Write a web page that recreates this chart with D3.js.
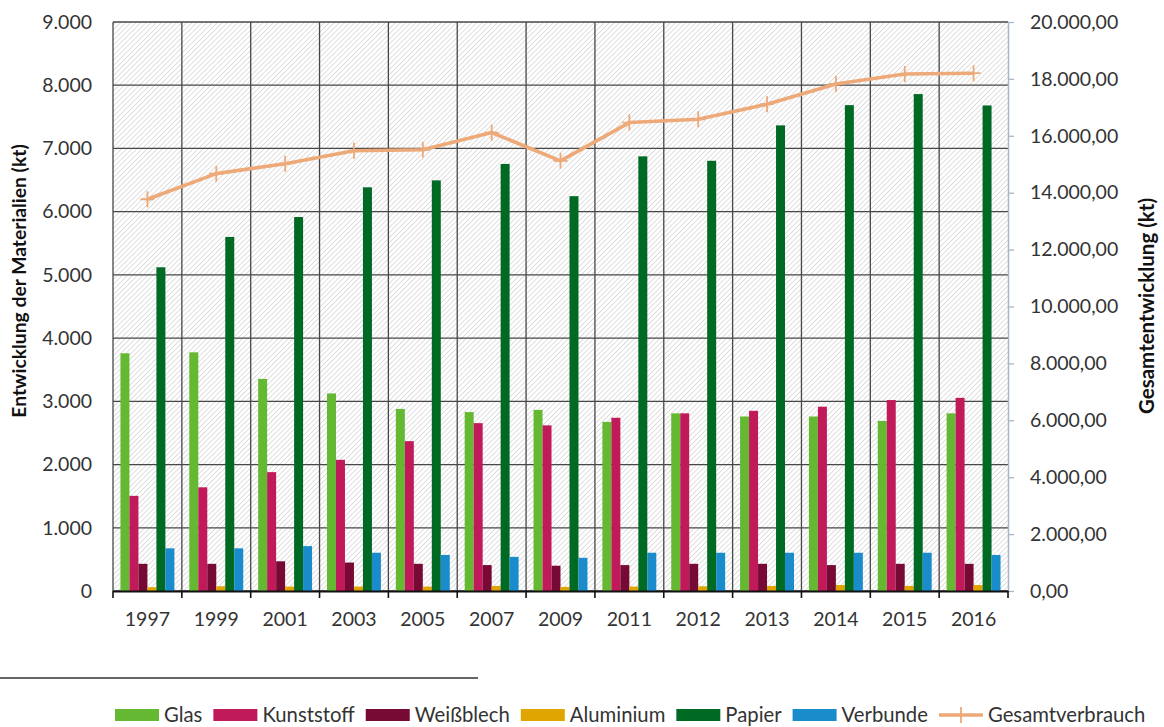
<!DOCTYPE html>
<html>
<head>
<meta charset="utf-8">
<script src="https://cdn.jsdelivr.net/npm/d3@7"></script>
<style>
  body { margin: 0; background: #fff; }
  svg { display: block; font-family: Lato, "Noto Sans", sans-serif; }
</style>
</head>
<body>
<div id="chart"></div>
<script>
const years = ['1997','1999','2001','2003','2005','2007','2009','2011','2012','2013','2014','2015','2016']
const seriesNames = ['Glas','Kunststoff','Weißblech','Aluminium','Papier','Verbunde']
const seriesColors = ['#65b832','#c01a5a','#760a35','#e0a500','#006a25','#1a8ccc']

const glas = [3760,3775,3355,3125,2880,2830,2865,2675,2810,2760,2760,2690,2810]
const kunststoff = [1505,1640,1880,2075,2370,2655,2620,2740,2810,2850,2915,3020,3055]
const weissblech = [430,430,470,450,430,410,400,410,430,430,410,430,430]
const aluminium = [60,75,70,70,70,80,65,70,75,80,95,80,95]
const papier = [5120,5600,5915,6385,6495,6755,6245,6875,6805,7365,7685,7860,7680]
const verbunde = [675,675,710,605,570,540,525,605,605,605,605,605,570]
const gesamt = [13770,14670,15020,15475,15510,16115,15120,16465,16580,17110,17820,18170,18200]

const leftTicks = [0,1000,2000,3000,4000,5000,6000,7000,8000,9000]
const rightTicks = [0,2000,4000,6000,8000,10000,12000,14000,16000,18000,20000]

const seriesValues = [glas, kunststoff, weissblech, aluminium, papier, verbunde]

const size = { width: 1164, height: 727 }
const plot = { left: 113, right: 1008, top: 22, bottom: 591 }

const svg = d3.select('#chart').append('svg')
  .attr('width', size.width)
  .attr('height', size.height)

// schraffierter Hintergrund
const defs = svg.append('defs')
const pat = defs.append('pattern')
  .attr('id','hatch')
  .attr('patternUnits','userSpaceOnUse')
  .attr('width',3.6).attr('height',3.6)
  .attr('patternTransform','rotate(45)')
pat.append('rect').attr('width',3.6).attr('height',3.6).attr('fill','#fff')
pat.append('line').attr('x1',0).attr('y1',0).attr('x2',0).attr('y2',3.6)
  .attr('stroke','#cdcdcd').attr('stroke-width',1.3)

svg.append('rect')
  .attr('x',plot.left).attr('y',plot.top)
  .attr('width',plot.right-plot.left).attr('height',plot.bottom-plot.top)
  .attr('fill','url(#hatch)')

const x0 = d3.scaleBand().domain(years).range([plot.left, plot.right])
const x1 = d3.scaleBand().domain(seriesNames).range([0, x0.bandwidth()]).paddingOuter(0.83)
const yLeft = d3.scaleLinear().domain([0,9000]).range([plot.bottom, plot.top])
const yRight = d3.scaleLinear().domain([0,20000]).range([plot.bottom, plot.top])

// Gitternetz
svg.append('g')
  .selectAll('line')
  .data(leftTicks)
  .enter()
  .append('line')
  .attr('x1',plot.left).attr('x2',plot.right)
  .attr('y1',d => yLeft(d)).attr('y2',d => yLeft(d))
  .attr('stroke','#474747').attr('stroke-width',1.3)

svg.append('g')
  .selectAll('line')
  .data(years)
  .enter()
  .append('line')
  .attr('x1',d => x0(d)).attr('x2',d => x0(d))
  .attr('y1',plot.top).attr('y2',plot.bottom)
  .attr('stroke','#474747').attr('stroke-width',1.3)

// Balken
const groups = svg.append('g')
  .selectAll('g')
  .data(seriesNames)
  .enter()
  .append('g')
  .attr('fill',(d,i) => seriesColors[i])

groups.selectAll('rect')
  .data((name,i) => seriesValues[i].map((v,j) => ({ name, year: years[j], value: v })))
  .enter()
  .append('rect')
  .attr('x',d => x0(d.year) + x1(d.name))
  .attr('width',x1.bandwidth())
  .attr('y',d => yLeft(d.value))
  .attr('height',d => plot.bottom - yLeft(d.value))

// linke Achse (nur Beschriftung)
const fmtLeft = d => d3.format(',')(d).replace(/,/g,'.')
const leftAxis = svg.append('g')
  .attr('transform',`translate(${plot.left},0)`)
  .call(d3.axisLeft(yLeft).tickValues(leftTicks).tickFormat(fmtLeft).tickSize(0).tickPadding(21))
leftAxis.select('.domain').remove()
leftAxis.selectAll('text').attr('font-size',19.5).attr('fill','#333').attr('font-family','Lato')

// rechte Achse
const fmtRight = d => d3.format(',.2f')(d).replace(/,/g,'#').replace('.',',').replace(/#/g,'.')
const rightAxis = svg.append('g')
  .attr('transform',`translate(${plot.right},0)`)
  .call(d3.axisRight(yRight).tickValues(rightTicks).tickFormat(fmtRight).tickSize(6).tickSizeOuter(0).tickPadding(16))
rightAxis.select('.domain').attr('stroke','#a9b6c6').attr('stroke-width',1.5)
rightAxis.selectAll('.tick line').attr('stroke','#a9b6c6').attr('stroke-width',1.3)
rightAxis.selectAll('text').attr('font-size',19.5).attr('fill','#333').attr('font-family','Lato')

// untere Achse
const bottomAxis = svg.append('g')
  .attr('transform',`translate(0,${plot.bottom})`)
  .call(d3.axisBottom(x0).tickSize(0).tickPadding(21))
bottomAxis.select('.domain').attr('stroke','#111').attr('stroke-width',1.8)
bottomAxis.selectAll('text').attr('font-size',19.5).attr('fill','#333').attr('font-family','Lato')
svg.append('g')
  .selectAll('line')
  .data(years.concat(['end']))
  .enter()
  .append('line')
  .attr('x1',d => d === 'end' ? plot.right : x0(d))
  .attr('x2',d => d === 'end' ? plot.right : x0(d))
  .attr('y1',plot.bottom).attr('y2',plot.bottom + 7)
  .attr('stroke','#111').attr('stroke-width',1.6)

// Gesamtverbrauch Linie
const lineColor = '#eda978'
const cx = d => x0(d) + x0.bandwidth() / 2
const line = d3.line().x((d,i) => cx(years[i])).y(d => yRight(d))
svg.append('path')
  .datum(gesamt)
  .attr('d',line)
  .attr('fill','none')
  .attr('stroke',lineColor)
  .attr('stroke-width',3.6)
  .attr('stroke-linejoin','round')

svg.append('g')
  .selectAll('path')
  .data(gesamt)
  .enter()
  .append('path')
  .attr('d',(d,i) => {
    const px = cx(years[i]), py = yRight(d)
    return `M${px-7},${py}H${px+7}M${px},${py-8}V${py+8}`
  })
  .attr('stroke',lineColor)
  .attr('stroke-width',1.8)

// Achsentitel
svg.append('text')
  .attr('transform','translate(26,281) rotate(-90)')
  .attr('text-anchor','middle')
  .attr('font-size',19.3)
  .attr('font-weight','bold')
  .attr('fill','#111')
  .text('Entwicklung der Materialien (kt)')

svg.append('text')
  .attr('transform','translate(1154,306) rotate(-90)')
  .attr('text-anchor','middle')
  .attr('font-size',20.5)
  .attr('font-weight','bold')
  .attr('fill','#111')
  .text('Gesamtentwicklung (kt)')

// Trennlinie
svg.append('line')
  .attr('x1',0).attr('x2',478)
  .attr('y1',678).attr('y2',678)
  .attr('stroke','#333').attr('stroke-width',1.5)

// Legende
const legendNames = seriesNames.concat(['Gesamtverbrauch'])
const legend = svg.append('g')
let lx = 115
legendNames.forEach((name,i) => {
  const item = legend.append('g')
  if (i < seriesNames.length) {
    item.append('rect')
      .attr('x',lx).attr('y',709).attr('width',44).attr('height',12)
      .attr('fill',seriesColors[i])
  } else {
    item.append('line')
      .attr('x1',lx).attr('x2',lx+44).attr('y1',715).attr('y2',715)
      .attr('stroke',lineColor).attr('stroke-width',3.6)
    item.append('line')
      .attr('x1',lx+22).attr('x2',lx+22).attr('y1',707).attr('y2',723)
      .attr('stroke',lineColor).attr('stroke-width',1.8)
  }
  const t = item.append('text')
    .attr('x',lx+49).attr('y',722)
    .attr('font-size',20.3)
    .attr('fill','#333')
    .text(name)
  lx += 49 + t.node().getComputedTextLength() + 11
})
</script>
</body>
</html>
